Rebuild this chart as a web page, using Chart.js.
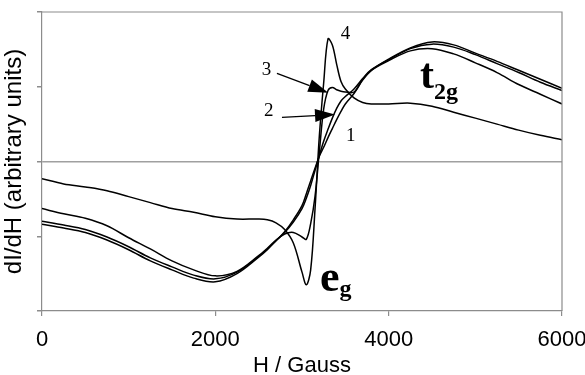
<!DOCTYPE html>
<html>
<head>
<meta charset="utf-8">
<script src="https://cdn.jsdelivr.net/npm/chart.js@4.4.1/dist/chart.umd.min.js"></script>
<style>
  html, body { margin: 0; padding: 0; background: #fff; }
</style>
</head>
<body>
<canvas id="epr" width="585" height="375"></canvas>
<script>
// field values (Gauss), shared by all four curves
const field = [0, 250, 500, 750, 1000, 1250, 1500, 1750, 2000, 2250,
  2500, 2600, 2700, 2800, 2900, 3000, 3050, 3100, 3150, 3200,
  3250, 3300, 3350, 3400, 3450, 3500, 3600, 3700, 3800, 4000,
  4250, 4500, 4750, 5000, 5250, 5500, 5750, 6000];

// dI/dH (arbitrary units)
const curve1 = [-0.84, -0.89, -0.95, -1.05, -1.18, -1.33, -1.45, -1.56, -1.61, -1.50,
  -1.28, -1.18, -1.06, -0.94, -0.78, -0.59, -0.43, -0.26, -0.09, 0.07,
  0.19, 0.32, 0.44, 0.56, 0.67, 0.77, 0.91, 1.09, 1.22, 1.37,
  1.52, 1.60, 1.56, 1.45, 1.34, 1.22, 1.10, 0.98];
const curve2 = [-0.80, -0.85, -0.91, -1.01, -1.14, -1.29, -1.41, -1.52, -1.57, -1.48,
  -1.27, -1.17, -1.06, -0.95, -0.81, -0.63, -0.49, -0.32, -0.12, 0.08,
  0.27, 0.43, 0.58, 0.71, 0.81, 0.87, 0.97, 1.11, 1.23, 1.36,
  1.51, 1.57, 1.53, 1.43, 1.31, 1.19, 1.06, 0.95];
const curve3 = [-0.63, -0.70, -0.76, -0.86, -1.02, -1.17, -1.33, -1.45, -1.53, -1.47,
  -1.26, -1.16, -1.05, -0.97, -0.95, -1.01, -1.04, -0.83, -0.47, 0.13,
  0.70, 0.95, 0.99, 0.96, 0.94, 0.93, 0.93, 1.10, 1.22, 1.35,
  1.48, 1.51, 1.44, 1.32, 1.19, 1.03, 0.90, 0.77];
const curve4 = [-0.23, -0.30, -0.34, -0.39, -0.47, -0.55, -0.63, -0.68, -0.74, -0.77,
  -0.77, -0.78, -0.82, -0.91, -1.09, -1.48, -1.65, -1.45, -0.64, 0.34,
  1.05, 1.64, 1.56, 1.30, 1.07, 0.97, 0.85, 0.79, 0.77, 0.77,
  0.78, 0.74, 0.66, 0.58, 0.50, 0.42, 0.35, 0.29];

const curveNames = ['1', '2', '3', '4'];
const xTicks = [0, 2000, 4000, 6000];
const yTicks = [-2, -1, 0, 1, 2];

const SANS = '"Liberation Sans", Arial, sans-serif';
const SERIF = '"Liberation Serif", "Times New Roman", serif';
const AXIS = '#8c8c8c';

function toPoints(ys) {
  return field.map((f, i) => ({ x: f, y: ys[i] }));
}

const series = [curve1, curve2, curve3, curve4];

// frame, curve numbers, arrows and the e_g / t_2g labels
const notes = {
  id: 'notes',
  afterDatasetsDraw(chart) {
    const { ctx, chartArea: a, scales: { x, y } } = chart;
    const px = v => x.getPixelForValue(v);
    const py = v => y.getPixelForValue(v);
    ctx.save();

    ctx.strokeStyle = AXIS;
    ctx.lineWidth = 1.2;
    ctx.beginPath();
    ctx.moveTo(a.left, a.top);
    ctx.lineTo(a.right, a.top);
    ctx.lineTo(a.right, a.bottom);
    ctx.stroke();

    ctx.fillStyle = '#000';
    ctx.textBaseline = 'alphabetic';
    ctx.textAlign = 'left';

    function label(s, gx, gy, size) {
      ctx.font = size + 'px ' + SERIF;
      ctx.fillText(s, px(gx), py(gy));
    }
    function subLabel(main, sub, gx, gy, size, subSize, drop) {
      ctx.font = 'bold ' + size + 'px ' + SERIF;
      ctx.fillText(main, px(gx), py(gy));
      const w = ctx.measureText(main).width;
      ctx.font = 'bold ' + subSize + 'px ' + SERIF;
      ctx.fillText(sub, px(gx) + w, py(gy) + drop);
    }
    function arrow(gx0, gy0, gx1, gy1) {
      const x0 = px(gx0), y0 = py(gy0), x1 = px(gx1), y1 = py(gy1);
      const ang = Math.atan2(y1 - y0, x1 - x0);
      const L = 20, W = 6.5;
      const bx = x1 - L * Math.cos(ang), by = y1 - L * Math.sin(ang);
      ctx.strokeStyle = '#000';
      ctx.lineWidth = 1.3;
      ctx.beginPath();
      ctx.moveTo(x0, y0);
      ctx.lineTo(bx, by);
      ctx.stroke();
      ctx.beginPath();
      ctx.moveTo(x1, y1);
      ctx.lineTo(bx - W * Math.sin(ang), by + W * Math.cos(ang));
      ctx.lineTo(bx + W * Math.sin(ang), by - W * Math.cos(ang));
      ctx.closePath();
      ctx.fill();
    }

    label(curveNames[3], 3446, 1.64, 19);
    label(curveNames[2], 2535, 1.16, 19);
    label(curveNames[1], 2561, 0.61, 19);
    label(curveNames[0], 3508, 0.27, 19);
    arrow(2711, 1.18, 3303, 0.92);
    arrow(2769, 0.59, 3381, 0.63);

    subLabel('t', '2g', 4361, 0.98, 42, 24, 11);
    subLabel('e', 'g', 3208, -1.73, 44, 24, 5);

    ctx.restore();
  }
};

new Chart(document.getElementById('epr'), {
  type: 'line',
  data: {
    datasets: series.map((s, i) => ({
      label: curveNames[i],
      data: toPoints(s),
      borderColor: '#000',
      borderWidth: 1.5,
      pointRadius: 0,
      fill: false,
      tension: 0.35
    }))
  },
  options: {
    responsive: false,
    animation: false,
    layout: { padding: { top: 12, right: 0, left: 0, bottom: 0 } },
    plugins: { legend: { display: false }, tooltip: { enabled: false } },
    scales: {
      x: {
        type: 'linear',
        min: 0,
        max: 6000,
        afterBuildTicks: s => { s.ticks = xTicks.map(v => ({ value: v })); },
        afterFit: s => { s.height = 64; s.paddingRight = 23; },
        ticks: { color: '#000', font: { family: SANS, size: 22 }, padding: 11, maxRotation: 0,
          callback: v => String(v) },
        grid: { drawOnChartArea: false, color: AXIS, tickLength: 5, lineWidth: 1.2 },
        border: { color: AXIS, width: 1.2 },
        title: { display: true, text: 'H / Gauss', color: '#000',
          font: { family: SANS, size: 22 }, padding: { top: 0, bottom: -4 } }
      },
      y: {
        min: -2,
        max: 2,
        afterBuildTicks: s => { s.ticks = yTicks.map(v => ({ value: v })); },
        afterFit: s => { s.width = 42; },
        ticks: { display: false },
        grid: {
          color: c => (c.tick && c.tick.value === 0 ? '#a0a0a0' : 'rgba(0,0,0,0)'),
          tickColor: AXIS,
          lineWidth: 1.5,
          tickLength: 5
        },
        border: { color: AXIS, width: 1.2 },
        title: { display: true, text: 'dI/dH (arbitrary units)', color: '#000',
          font: { family: SANS, size: 24 }, padding: { top: 0, bottom: 0 } }
      }
    }
  },
  plugins: [notes]
});
</script>
</body>
</html>
